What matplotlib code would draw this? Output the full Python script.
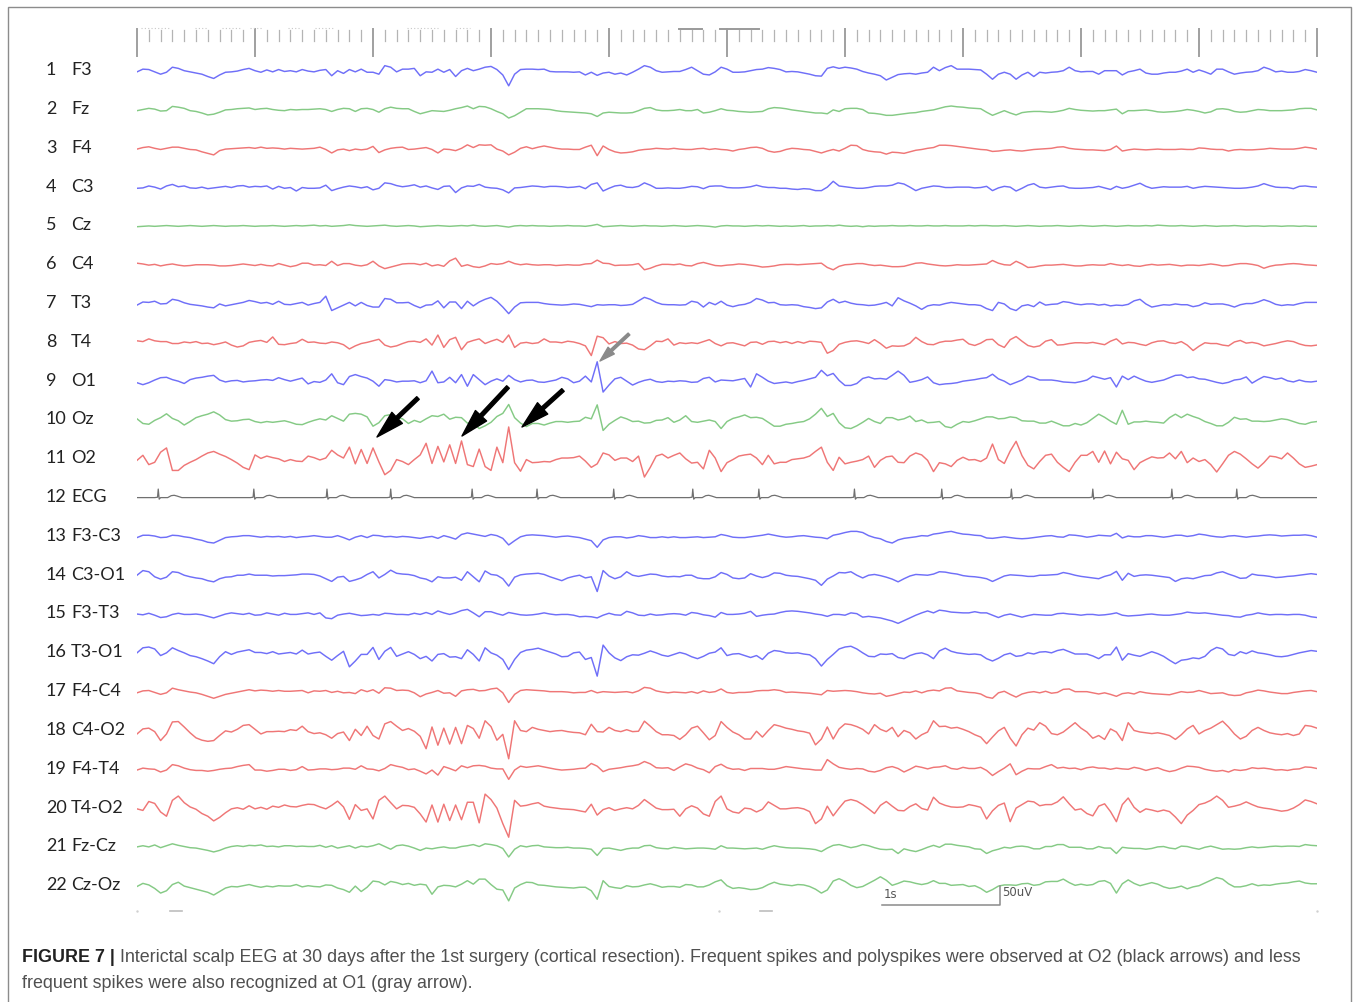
import numpy as np
import matplotlib.pyplot as plt
from matplotlib.patches import FancyArrowPatch, Rectangle

# traces: uV, one sample every 50 ms, 10 s page
DT = 0.05

f3 = [-3, 4, 3, -3, -9, -4, 9, 6, 0, -3,
      -6, -9, -15, -20, -11, -4, -3, -1, 3, 6,
      0, -4, 2, -3, 3, -2, 0, -3, 3, -1,
      -3, 1, 3, -13, 0, -7, 3, -3, 4, -4,
      -4, -9, 13, 9, -3, 4, 4, 6, -13, -3,
      -4, 4, -4, 3, -15, 0, 6, 0, 4, 9,
      11, 3, -11, -39, -9, 3, 4, 4, 3, 4,
      -2, -3, -3, -3, -4, -3, -11, -4, -12, -6,
      -4, -9, -6, -11, -4, 4, 13, 9, 0, -4,
      -3, -2, -2, 3, 9, 0, -9, -11, -3, 9,
      4, -4, -4, -3, 0, 3, 4, 8, 6, 3,
      -3, -2, -3, -6, -9, -13, -14, 6, 10, 6,
      9, 7, 4, -2, -6, -9, -13, -24, -17, -10,
      -8, -7, -9, -6, -4, 9, 0, 8, 13, 4,
      4, 4, 3, 2, -9, -22, -9, -4, -9, -22,
      -11, -4, -15, -4, -6, -4, -3, 0, 9, 0,
      -3, -2, -2, -9, 0, 0, 0, -11, -3, 0,
      4, -6, -9, -9, -6, -4, -4, -1, 4, -4,
      2, -3, -9, 4, 4, -3, -9, -6, -4, -3,
      0, 9, 4, -3, -1, -4, -4, -2, 3, 0, -4]

fz = [-3, 0, 3, 1, -4, -3, 8, 6, 3, -3,
      -5, -9, -14, -12, -7, -1, 0, 2, 3, 4,
      0, 2, 3, 0, -2, -3, 0, -1, 0, 0,
      1, 2, 0, -5, 0, 3, 2, -5, 2, 3,
      0, -7, 2, 6, 3, 2, 2, -5, -11, -7,
      -3, -4, -5, -2, 2, 5, 9, 2, 8, 7,
      2, -5, -11, -22, -16, -7, 2, 2, 2, 1,
      0, -3, -5, -6, -7, -8, -9, -11, -18, -9,
      -7, -8, -9, -9, -8, -3, 3, 5, -1, -3,
      -3, -2, 0, -3, -3, 0, -9, -7, -3, 2,
      -2, -3, -5, -6, -7, -6, -5, 2, 5, 4,
      2, -1, -3, -5, -7, -9, -9, -11, -1, -5,
      2, 3, 3, 0, -9, -10, -12, -15, -15, -13,
      -11, -9, -8, -5, -3, -1, 3, 7, 9, 7,
      6, 4, 3, 2, -7, -15, -9, -3, -9, -14,
      -8, -6, -5, -5, -6, -7, -5, -2, 3, 0,
      -2, -3, -4, -3, -3, -1, 1, -11, -3, -3,
      -2, -1, -3, -6, -7, -6, -5, -3, 0, -2,
      -5, -9, -6, 1, 2, 0, -5, -7, -6, -3,
      0, -1, -3, -3, -3, -2, -1, 2, 3, 3, -1]

f4 = [-2, 2, 4, 0, -3, 0, 3, 3, 0, -3,
      -4, -9, -13, -17, -6, -2, -1, 0, 1, 2,
      0, 3, 0, 1, 0, -2, 0, -1, -2, -1,
      0, 3, -3, -12, -4, -2, -6, -2, -4, -2,
      5, -11, -4, 0, 2, 3, -3, -2, 0, 2,
      -3, -12, -2, -3, -6, 0, 9, 2, 9, 8,
      9, -2, -7, -17, -10, 0, 4, -1, 3, 6,
      3, 0, -2, -2, -3, -3, 3, 8, -19, 6,
      -3, -9, -12, -11, -9, -5, -3, -2, 0, -1,
      -2, 0, -2, -3, -3, -1, 0, -3, -1, -3,
      -4, -7, -3, -1, 2, 3, 0, -7, -10, -8,
      -3, 0, -1, -3, -4, -8, -12, -7, -3, -7,
      0, 8, 7, -3, -7, -9, -10, -15, -10, -11,
      -13, -9, -5, -3, 0, 2, 8, 8, 7, 5,
      3, 1, -1, -3, -4, -8, -7, -5, -4, -6,
      -7, -5, -3, -2, -1, 0, 3, 4, 0, -2,
      -3, -4, -4, -5, -6, -3, 6, -7, -4, -2,
      -3, -4, -3, -2, -3, -3, -3, -2, -3, -3,
      1, 0, -2, -3, -3, -7, -4, -3, -4, -4,
      -3, -2, 0, -1, -2, -2, -2, 0, 3, 1, -2]

c3 = [-3, -2, 3, 0, -5, 3, 7, 1, 3, -2,
      -3, 0, -4, -2, 0, 2, -1, 3, 4, 0,
      2, 1, 3, -5, 2, -3, -1, -10, -1, -3,
      -3, -2, 5, -9, -4, 0, 3, 1, -2, 1,
      -7, -3, 11, 9, 4, 1, 3, 6, 0, 3,
      -2, -6, 2, 3, -14, -2, 3, 2, 7, 0,
      -2, -3, -7, -15, -2, -1, 1, 3, 2, 0,
      2, 2, 1, -1, 0, 2, -4, 7, 11, -10,
      -3, 3, 5, 0, -1, 2, 11, 5, -3, -3,
      -2, -3, -3, -1, 2, 1, -4, 2, 3, 3,
      -1, -2, -2, -1, 1, 5, 1, -1, -1, -3,
      -3, -5, -6, -4, -5, -9, -9, 0, 15, 3,
      1, -1, -3, -3, -1, 2, 3, 3, 5, 11,
      8, 0, -9, -3, 0, 3, 2, -1, -1, 0,
      0, 0, -2, -1, 2, -9, -2, 2, 0, -10,
      -3, 5, 9, 0, -2, 0, 2, 3, -2, -3,
      -3, -2, -1, 2, -2, -6, 2, -3, 0, 5,
      10, 2, -3, -1, 1, 0, 0, 0, 2, -3,
      0, 2, 1, 0, -1, -2, -3, -3, -2, 0,
      3, 9, 4, 0, -1, -1, -4, 2, 3, 1, 0]

cz = [-2, -1, 0, -1, 0, 1, 0, -1, 0, 1,
      0, -1, 0, 1, 0, -1, 0, 0, 1, 0,
      -1, 0, 0, 1, 0, -1, 0, 1, 0, 1,
      2, 0, 1, -1, 0, 1, 3, 1, 0, -1,
      0, 1, 2, 0, -1, 0, 1, 0, -2, -1,
      0, 1, 0, -1, 0, 1, 0, 2, 0, -1,
      0, 1, -1, -3, 0, 1, 0, 1, 0, 0,
      -1, 0, 0, 1, 0, 0, -1, 1, 4, -2,
      -1, 0, 1, 0, -1, 0, 1, 0, 0, -1,
      0, 1, 0, -1, 0, 1, 0, -1, -3, 0,
      1, 0, 0, -1, 0, 1, 0, 1, 0, -1,
      0, -1, 0, 1, -1, 0, 0, 1, 0, 2,
      0, -1, 0, -2, 0, -1, 0, 0, 1, 0,
      0, 1, 0, 0, 1, 0, 0, 1, 0, 0,
      0, 1, 0, 1, 1, 0, 0, 1, 0, -1,
      0, 1, 0, -1, 0, 0, 1, 0, -1, 0,
      1, 0, -1, 0, 1, 0, -1, 0, 1, 0,
      0, 1, 0, 2, 1, 0, 0, 1, 0, -1,
      0, 1, 0, -1, 0, 0, 1, 0, -1, 0,
      0, -1, 0, 0, -1, 0, 0, -1, 0, -1, -1]

c4 = [4, 2, -1, 1, -3, 0, 2, -1, -3, -2,
      0, 0, 0, -1, -3, -3, -2, 0, 2, 0,
      -2, 1, -2, -3, 3, -1, -5, -2, 4, 4,
      -1, 0, -2, 9, -2, 3, 3, -1, -3, 0,
      9, -3, -10, -6, -2, 2, 3, 3, 0, 4,
      -3, 0, -4, 10, 17, -4, 0, -5, -7, -3,
      3, 1, 3, 9, 3, 0, 2, 0, -1, 0,
      0, -2, -1, 0, -1, -1, 2, 3, 12, 4,
      3, -2, -1, -1, 0, 3, -13, -9, -3, 1,
      1, 0, 2, -2, -3, 3, 6, 2, -2, -3,
      -1, 0, 2, 1, -1, -3, -6, -5, -3, 0,
      1, 1, 0, 1, 2, 3, 4, -7, -13, -4,
      0, 1, 3, 3, 0, -2, -1, -3, -5, -5,
      -4, 0, 4, 5, 2, 0, -2, -3, -2, 0,
      -1, -1, 0, 1, 2, 11, 4, 0, -1, 9,
      2, -7, -6, -3, -1, -1, 0, 1, -1, -3,
      -3, -1, 0, -1, -1, 3, 0, -2, 0, -3,
      -4, -1, 1, -1, 0, 1, -1, -3, -1, -1,
      -2, 0, 2, 0, -3, -2, 1, 3, 3, 1,
      -2, -9, -4, -1, 0, 2, 3, 2, 0, -1, -2]

t3 = [-4, 4, 3, 6, -1, 0, 11, 8, 2, -2,
      -4, -6, -9, -11, -1, -6, -3, 0, 3, 8,
      5, 1, 3, -2, 6, -2, -3, 0, 3, -4,
      0, 3, 19, -18, -11, -4, 3, -6, 3, -5,
      -9, -9, 13, 11, 2, 2, 3, -5, -11, -4,
      -3, 7, -11, 4, 4, -13, 6, -6, 4, 11,
      16, 6, -9, -26, -9, 2, 3, 3, 3, 0,
      -2, -3, -4, -3, -1, -2, -5, -8, -3, -4,
      -3, -3, -5, -4, -2, 7, 16, 11, 3, -2,
      -3, -3, -4, -3, 6, 3, -9, 3, -3, 6,
      -4, -8, -4, -2, 3, 13, 9, 2, 3, -3,
      -4, -3, -4, -8, -10, -13, -11, 4, 11, 2,
      6, 1, -2, -3, -5, -4, -1, 3, -6, 15,
      7, 1, -6, -15, -6, -3, -4, 0, 3, 1,
      -1, -3, -3, -5, -13, -18, 3, -1, -13, -18,
      -6, -3, -8, 4, -4, -2, -1, 5, 3, -1,
      -3, -1, -1, -4, -2, -6, -4, -5, -2, 7,
      11, -1, -9, -6, -3, -4, -1, -3, -3, -8,
      -5, 2, -2, -1, -1, -4, -9, -3, 0, 0,
      4, 10, 5, -2, -5, -3, -4, 0, 3, 3, 3]

t4 = [4, 2, 9, 4, 2, 2, -3, -3, 1, -1,
      2, -3, -2, -6, -3, 1, -7, -12, -9, 0,
      3, 5, 0, 14, -5, -6, -3, -1, 8, 0,
      1, -2, -3, 1, -1, -6, -17, -9, -3, 0,
      4, 8, -7, -12, -9, -3, 2, 3, 0, 9,
      -7, 19, -13, 7, 13, -19, 0, 5, 9, -3,
      3, 8, 0, 19, -13, -2, 0, -3, -1, 9,
      1, 1, -1, 3, 1, -3, -9, -34, 16, 12,
      -4, 2, -3, -2, -7, -17, -19, -9, 3, 2,
      9, -7, -1, -3, -1, -3, 2, 7, -3, -9,
      -2, -1, -5, -9, 0, 1, -5, 2, 3, -1,
      2, -3, 2, -2, 3, 2, 0, -28, -21, -5,
      0, 3, 4, 1, -3, 7, -3, -15, -9, -10,
      -9, -2, 13, 2, -5, -6, 0, 3, 3, 6,
      8, -4, -8, -2, 7, 8, -6, -13, 7, 15,
      3, -8, -12, -9, 3, 7, -7, -6, -3, -1,
      -1, -2, 0, -3, -6, 3, 9, -4, 0, -1,
      -5, -8, -1, 3, 4, -1, -3, 2, -7, -21,
      -10, -1, -3, -3, -7, -9, 1, 5, -2, 0,
      -3, -9, -6, -3, 1, 4, 2, -4, -8, -9, -7]

o1 = [-4, -9, -4, 3, 9, 10, 4, 0, -6, 4,
      8, 10, 13, 15, 3, -2, 1, 2, -2, 0,
      1, 3, 4, 2, 9, 4, 0, 4, 8, -7,
      -1, -3, 3, 19, -4, -9, 12, 17, 12, 8,
      0, -13, 4, 2, -2, 0, 0, 1, -4, 1,
      26, -4, -2, 10, -4, 17, -13, 17, 4, -9,
      0, 6, 0, 15, 4, -2, 2, 3, -2, -3,
      0, 3, 10, 6, -4, 0, 13, -2, 50, -28,
      -10, 6, 10, 0, -10, -3, 2, 5, -1, -3,
      0, -1, 1, 0, -3, -2, 7, 10, -2, 3,
      2, 1, 4, 7, -15, 19, 10, 0, -6, -4,
      -2, -5, -1, 2, 6, 10, 28, 14, 20, 2,
      -11, -11, -6, 7, 11, 6, 7, 5, 15, 26,
      15, -3, 0, 4, 11, -4, -9, -7, -6, -4,
      0, 2, 4, 7, 9, 18, 6, 0, -9, -3,
      3, 13, 9, 3, 3, 3, 1, -2, -3, -4,
      -1, 3, 13, 9, 5, 9, -15, 13, 4, 13,
      6, 0, -3, 0, 3, 9, 15, 16, 9, 11,
      6, 5, 1, -3, -6, -3, 3, 5, 11, -5,
      4, 12, 9, 5, 8, 1, -2, 3, -1, -2, 0]

oz = [3, -9, -11, -1, 6, 16, 4, -2, -13, -4,
      6, 11, 15, 21, 13, 1, -3, -2, 1, 2,
      -4, -7, -4, -6, -4, -2, -6, -11, -12, -6,
      -1, 3, 0, 11, 4, -3, 15, 17, 15, 8,
      -16, -7, 11, 14, 6, 3, -9, -1, -6, 3,
      11, 9, 15, 2, 7, 6, -8, -8, -22, -15,
      -6, 9, 17, 40, 6, -8, -17, -9, -9, -13,
      -8, -4, -4, -6, -4, -3, 7, 3, 39, -27,
      -11, -1, 8, 3, -4, -3, -8, -7, -1, 0,
      6, -6, 0, 11, -4, -6, -3, 0, -4, -22,
      -4, 4, 8, 13, 6, 7, 4, -6, -16, -16,
      -11, -9, -6, -4, 3, 15, 30, 9, 17, -7,
      -20, -22, -15, -6, 4, -4, -9, 6, 6, 0,
      3, 10, -4, 0, -7, -6, -4, -17, -20, -11,
      -4, -6, -2, 3, 8, 8, 3, 4, 8, 6,
      -2, -3, -3, -8, -8, -3, -9, -15, -15, -9,
      -13, -7, 4, 15, 7, -3, -11, 25, -11, -5,
      -5, -3, -5, -6, -8, 6, 15, 6, 15, 9,
      4, -4, -9, -15, -15, -6, 7, 2, 3, -3,
      -3, -4, -3, 0, 3, 1, -4, -9, -11, -6, -4]

o2 = [-4, 9, -15, -9, 17, 28, -30, -30, -17, -9,
      -2, 7, 15, 19, 12, 6, -2, -11, -22, -28,
      10, 1, 7, 3, 0, -7, -2, -6, -7, 7,
      3, -3, 2, 22, 10, 2, 30, -13, 24, -12,
      28, -8, -41, -30, -2, -7, -15, -2, 10, 40,
      -12, 32, -8, 36, -12, 46, -15, -20, 25, -20,
      -30, 30, -10, 82, -10, -32, -2, -10, -9, -7,
      -8, -2, 2, 2, 3, 7, -6, -22, -13, 15,
      10, -4, 2, 2, -7, 7, -47, -22, 7, 12,
      2, 9, 15, 0, -11, -9, -26, 22, 2, -33,
      -10, -2, 7, 10, 12, 2, -15, 9, -13, -9,
      -9, -2, 0, 2, 7, 19, 30, -9, -30, 4,
      -13, -9, -6, -2, 7, -22, -4, 5, 7, -9,
      -10, 7, 15, 10, -4, -33, -10, -13, -20, -4,
      4, -3, -2, -7, 2, 38, -2, -12, 20, 45,
      8, -17, -26, -7, 9, 12, -9, -22, -33, -9,
      9, 9, 19, -9, 20, -13, 17, 0, -4, -28,
      -10, -2, 5, 2, 3, 15, 0, 19, -10, 2,
      -7, -2, -15, -34, -13, 9, 19, 12, 0, -13,
      -24, -10, 7, 5, 0, 15, 2, -13, -22, -19, -15]

f3_c3 = [-3, 3, 3, 1, -3, -2, 3, 2, -1, -3,
         -7, -10, -15, -17, -10, -3, -1, 0, 2, 2,
         0, -2, 0, -1, 0, -2, 0, -3, -1, 0,
         2, 0, -2, -2, 2, -3, -9, -2, 2, -3,
         3, 2, -1, 0, -2, 0, -1, -3, -5, -2,
         0, -5, 2, -2, -7, 5, 9, 6, 3, 0,
         5, 2, -5, -22, -11, -1, 3, 4, 3, 2,
         0, -2, 0, 1, -1, -3, -7, -11, -28, -9,
         -3, -1, -1, -4, -2, 2, 0, -3, -3, -1,
         -3, -1, -3, -3, -2, -1, -3, -2, -1, 5,
         2, -2, -3, -3, -1, 1, 3, 6, 3, 0,
         -2, -1, 1, 2, 0, -2, -3, -6, 3, 6,
         10, 13, 13, 10, 2, -3, -6, -13, -17, -9,
         -5, -3, -1, 2, 1, 6, 8, 11, 13, 9,
         6, 5, 3, 2, -4, -5, -3, -1, -3, -5,
         -6, -5, -3, -1, 1, 2, -1, -2, 4, 3,
         1, -2, 0, 3, 2, 1, 8, -4, 1, -1,
         -1, 2, 2, 0, -2, 0, 3, 3, 0, 2,
         6, 4, 1, -1, -2, 1, 2, 0, -2, 0,
         1, 3, 4, 3, 1, 2, 3, 3, 4, 2, -2]

c3_o1 = [0, 12, 9, -4, -10, -5, 9, 7, 0, -4,
         -7, -9, -14, -17, -9, -5, -4, 0, 0, 3,
         0, 0, 0, -2, -1, -1, 0, 1, 3, 3,
         2, -2, -9, -16, -5, -3, -16, -12, -7, 2,
         9, -7, 2, 13, 5, 3, 2, -1, -7, -10,
         -17, -4, -7, -7, -5, -13, 9, -4, -17, 11,
         2, 0, -9, -28, -5, 1, 3, 4, 5, 2,
         -4, -9, -14, -7, -3, 0, -7, -4, -42, 12,
         -2, -9, -4, 9, 0, -3, 0, 3, 2, -2,
         -4, -3, -4, 0, 0, -7, -9, -9, -4, 7,
         2, -7, -9, -7, 4, -2, -6, -2, 6, 5,
         0, -2, -3, -6, -9, -13, -26, -10, -2, 7,
         6, 9, 0, -7, 0, 2, -1, -5, -10, -17,
         -9, -2, 2, 1, 0, 3, 9, 8, 5, 3,
         -1, -3, -4, -6, -9, -16, -9, -2, 1, 0,
         -1, -3, -3, 0, 0, 1, 2, 7, 4, 0,
         -3, -5, -7, -9, -3, 1, 10, -13, 5, -3,
         0, 1, 0, -2, -4, -6, -16, -9, -7, -9,
         -5, -1, 0, 6, 9, 3, -2, -8, -7, 3,
         0, -1, -3, -6, -5, -3, -2, 0, 2, 4, 2]

f3_t3 = [0, -2, 2, -3, -9, -7, -1, 2, -1, -1,
         0, -2, -6, -10, -5, 0, 3, 1, -1, 2,
         -3, -2, 3, 0, -3, 2, -1, -1, 1, 3,
         -1, 3, -10, -12, -3, 0, 2, -1, -4, -3,
         -1, -3, 2, 1, -1, -1, -2, 2, -1, 4,
         -1, 8, 3, -1, 3, 9, 12, 3, -7, 6,
         6, 1, -3, 4, 1, -2, -3, -2, 0, 3,
         0, -2, -1, -1, -3, -7, -6, -7, -10, -3,
         2, -2, -3, 7, 3, -3, -4, 0, -3, -2,
         0, 1, 0, -3, 4, 2, -2, -4, -8, 4,
         -1, -1, 0, 2, 7, -6, -3, -1, 0, 4,
         7, 8, 7, 5, 3, 0, -2, -6, -1, -1,
         -3, 3, 1, -8, -6, -8, -10, -14, -18, -24,
         -17, -10, -3, 3, 8, 3, 10, 8, 5, 4,
         3, 3, 6, 3, 3, -3, -9, -3, 0, -4,
         -8, -4, -1, -2, -3, -3, 1, 2, 0, -1,
         -3, -1, -1, -3, -2, 0, 3, -3, -5, -4,
         -3, -1, 0, -2, -3, -3, -1, 1, 5, 3,
         2, 3, 1, -1, -3, -4, -7, -8, -3, -1,
         3, 0, -2, -1, -1, -2, -1, -1, -3, -7, -9]

t3_o1 = [0, 13, 15, 10, -7, 0, 13, 6, 0, -7,
         -10, -15, -21, -28, -10, 3, -4, 2, 5, 8,
         1, 1, -2, 3, -3, -1, 1, -3, 7, -3,
         0, 2, -9, -19, -7, 4, -36, -21, -4, -4,
         14, -17, 4, 14, -9, -3, 3, -4, -15, -9,
         -21, -4, -2, -11, -10, -15, 8, -4, -21, 13,
         0, -6, -17, -43, -17, 1, 7, 9, 12, 7,
         2, -3, -10, -9, 0, 2, -17, -12, -60, 20,
         0, -13, -20, -10, -5, -6, -1, 5, 0, -6,
         -9, -4, 1, -3, -10, -15, -9, -1, 2, 13,
         -7, -3, -2, -7, -12, -7, -17, -1, 6, 4,
         0, -1, 0, -3, -5, -15, -34, -17, -4, 10,
         15, 17, 10, 0, -9, -10, -3, -4, -2, -12,
         -15, -7, -2, 0, -5, -15, 5, 12, 4, 0,
         -2, -4, -3, -5, -15, -21, -14, -5, -1, -9,
         -7, 0, -3, 2, 3, 0, 6, 9, 3, -3,
         -3, -3, -8, -15, -5, -5, 15, -19, -2, -6,
         -9, -3, 3, -2, -9, -19, -28, -19, -17, -13,
         -15, -9, 6, 14, 10, -4, -7, 3, -2, 5,
         0, -2, -5, -9, -10, -8, -4, 0, 3, 6, 4]

f4_c4 = [-3, 2, 3, -2, -7, -3, 9, 5, 2, -1,
         -3, -7, -12, -17, -12, -7, -4, -1, 2, 5,
         2, 4, 3, 1, 3, 1, 1, 2, 3, -3,
         2, 1, 3, -2, 1, -3, -2, -5, 5, 0,
         5, -4, 10, 9, 3, 4, 3, -3, -13, -6,
         -2, 3, -4, -3, -12, 2, 5, 6, 2, 3,
         7, 9, -3, -28, -7, 3, 5, 4, 3, 2,
         0, 0, 0, -1, -3, -2, -2, 3, -3, 0,
         -1, -2, -1, 0, -3, 2, 11, 9, 2, -1,
         -3, -1, -2, -3, 0, -4, 2, -2, 0, 7,
         -2, -4, -2, -2, -1, 2, 3, 3, 5, 3,
         -2, -1, -2, -3, -4, -6, -8, 3, 1, 2,
         3, 2, 0, -3, -5, -6, -4, -12, -9, -5,
         -1, -2, 2, -3, 2, 4, 2, 9, 10, 2,
         0, -2, -3, -6, -14, -17, -3, 1, -7, -14,
         -6, -2, 0, -3, 1, -4, -2, 6, 7, 0,
         0, 0, -3, -6, -3, -7, -12, -5, -3, -6,
         0, -3, -5, -6, -7, -8, -4, 0, -2, -1,
         3, -1, -5, -4, -3, -8, -10, -9, -3, 0,
         4, 2, -1, -3, -5, -5, -2, 0, 2, 3, 0]

c4_o2 = [-9, 4, 6, -3, -26, -9, 22, 23, 9, -6,
         -19, -25, -28, -26, -13, -1, -4, 3, 13, 15,
         3, -9, -3, -3, -2, -3, 2, 0, 11, -3,
         -8, -6, -11, -20, -8, -4, -26, 3, -13, 11,
         -13, -22, 17, 23, 11, 0, 5, -2, -15, -47,
         9, -38, 6, -35, 8, -34, 13, 5, -20, 25,
         10, -25, -10, -73, 25, 0, -3, 8, 3, 0,
         -3, -1, 0, -3, -5, -6, -11, 16, -3, -4,
         8, 0, -3, 2, -3, -2, 24, 11, -3, -11,
         -11, -13, -23, -11, 6, 11, -6, -24, -13, 23,
         8, -4, -11, -22, -22, -2, -17, 0, 15, 11,
         6, 3, -1, -3, -7, -37, -22, 9, -22, 4,
         17, 15, 10, 3, -9, 15, 3, -3, 8, -16,
         0, -6, -22, -11, -4, 25, 10, 11, 6, 8,
         3, -3, -11, -17, -34, -17, -1, 8, -20, -40,
         -11, 6, 1, 20, 11, -8, -11, -4, 8, 20,
         6, -4, -20, -13, -23, 4, -4, -26, 20, 0,
         -4, -6, -8, -6, -9, -13, -23, -11, 4, 13,
         -9, 0, 6, 15, 24, 9, -9, -22, -15, 0,
         8, 0, -6, -9, -11, -8, -13, -9, 13, 11, 6]

f4_t4 = [-2, 3, 1, 0, -7, -2, 12, 9, 3, -1,
         -3, -3, -5, -3, 0, 2, 3, 7, 10, 12,
         -2, -2, -5, -3, 0, 0, -3, -1, 7, -2,
         -1, 1, 1, -1, 0, 3, 3, 0, 9, 1,
         0, -4, 2, 12, 8, 5, -1, 1, -5, -12,
         -2, -15, 7, 2, -4, 9, 4, 9, 10, 8,
         3, 1, 1, -26, -2, 8, 5, 7, 9, 6,
         3, 0, -2, -1, 0, 2, 3, 15, 8, -6,
         0, 2, 4, 7, 9, 12, 20, 14, 4, 3,
         4, -3, 6, 14, 10, 3, -1, -9, 7, 13,
         4, 0, 1, -3, 2, 2, 2, 0, 0, 3,
         7, 5, 3, 1, 0, -2, -2, 25, 14, 5,
         2, 0, 2, 1, -5, -7, -3, 4, 7, 2,
         -7, 0, 8, 5, 1, 5, 6, 9, 2, 0,
         5, 2, 2, 5, -3, -16, -6, 3, 14, -14,
         -5, 2, 1, 1, 7, 12, 3, 5, 2, 3,
         -1, 4, 6, 3, 3, 0, 3, 1, 0, 5,
         2, -3, 1, 4, -2, -6, -3, 3, 8, 7,
         5, 0, -3, -5, -3, -7, -1, -3, -1, 4,
         2, 3, 1, -2, -1, -3, 0, 1, 6, 5, 2]

t4_o2 = [-2, -6, 17, 12, -10, -21, 20, 31, 14, 3,
         -3, -14, -21, -33, -24, -12, -2, 1, -3, 6,
         -2, 2, -3, 5, 2, 8, 4, 3, 7, 10,
         9, 3, -2, 7, 18, 3, -29, 9, -6, -2,
         -28, 20, 31, 14, -2, 7, 6, 2, -15, -36,
         8, -36, 10, -32, 8, -30, 15, 15, -38, 36,
         22, 0, -40, -75, 20, 5, 7, 11, 14, 5,
         2, 0, -2, -3, -4, -7, -10, 10, -18, -4,
         1, -6, -2, 1, -2, 7, 22, 11, 0, -4,
         -4, -3, -21, -2, 6, 0, -15, -21, 17, 31,
         -2, -10, -13, 0, -2, -10, -3, 16, 7, -2,
         -2, 0, 1, -2, -9, -40, -28, 5, -20, 0,
         18, 22, 18, 9, -2, -14, 7, 17, 5, -6,
         -7, 4, 11, -1, -5, 28, 13, 7, 3, 2,
         3, 9, 6, 2, -28, -7, 7, 13, -35, 0,
         9, 18, 16, 6, 9, 9, 16, 29, 11, -5,
         -2, -14, -20, 5, 11, -9, -35, 9, 26, 2,
         -11, -2, -5, -9, -5, -9, -23, -40, -18, -6,
         9, 13, 20, 31, 20, 2, 5, 9, 16, 9,
         3, 0, -2, -5, -8, -6, 0, 9, 21, 17, 11]

fz_cz = [0, 3, 0, 5, -2, 3, 8, 4, 1, -2,
         -3, -6, -9, -13, -9, -3, 1, 3, 1, 4,
         3, 5, 1, 2, 0, 3, 3, 1, 2, 1,
         1, 4, -1, 3, -3, 0, 3, -3, 2, 0,
         3, 8, 1, -6, 3, 5, 2, -3, -9, -3,
         -5, -2, 0, -3, -3, 1, 3, 6, 1, 8,
         6, 3, -4, -26, -6, 3, 0, 3, 4, 0,
         -1, -2, -2, -1, -3, -3, -4, -6, -22, -4,
         -3, -6, -9, -5, -3, -3, 3, 4, -2, -4,
         -5, -1, -3, -5, -4, -3, -3, -4, -6, 3,
         -3, -3, -4, -5, -4, -3, -6, -1, 3, 0,
         -2, -3, -3, -4, -5, -7, -12, -3, 4, 6,
         2, -2, 1, 6, 3, -2, -6, -7, -6, -17,
         -5, -9, -12, -7, -1, 4, -1, 7, 7, 4,
         2, 0, -5, -6, -17, -10, -6, -1, -3, 1,
         2, 0, -5, -5, 1, 1, 6, 6, -1, -1,
         -1, -5, -5, 1, -3, -3, -17, -1, -3, -4,
         -4, -6, -4, 0, 1, -3, -5, 2, 1, -3,
         -6, -1, 2, -2, -6, -5, -6, -5, -2, 0,
         -2, -1, 1, 2, 1, 2, 2, 1, 6, 4, 3]

cz_oz = [-2, 6, 2, -7, -19, -13, 3, 9, -1, -5,
         -9, -13, -17, -24, -15, -6, -2, -3, 0, 3,
         -1, -4, -1, -3, 0, -1, -1, 3, -3, 0,
         -2, -3, 2, 1, -6, -10, -17, -1, -15, -4,
         12, 10, 2, 11, 8, 3, 6, 1, 4, 2,
         -22, -3, 1, 0, -3, 4, 13, 4, 17, 17,
         3, -9, -11, -39, -6, 3, 9, 8, 2, 1,
         -1, -3, -4, -5, -6, -4, -4, -13, -35, 13,
         -2, -5, -7, 0, -3, -2, 2, 5, 1, -4,
         -2, -2, -4, 3, 2, -3, -3, 2, 10, 15,
         0, -7, -5, -7, -10, -9, -5, 3, 9, 4,
         2, 0, 3, 2, -2, -9, -19, -11, 12, 18,
         11, 1, -5, -2, 6, 14, 23, 14, 1, 6,
         12, 10, 6, 3, 6, 13, 6, 6, 1, 2,
         3, -2, 0, -7, -17, -10, -1, 2, 2, 1,
         5, 6, 1, 3, 10, 11, 11, 17, 8, 1,
         4, 1, 3, 11, 13, 6, -19, 5, 15, 6,
         0, 4, 8, 4, -3, -7, -5, -1, -8, -3,
         0, 7, 14, 21, 17, 5, -3, -3, 0, 5,
         0, 2, 1, 4, 6, 7, 10, 12, 7, 5, 5]

# ECG: R-peak times (s) and the shape of one beat (s from R, uV)
ecg_beats = [0.18, 0.99, 1.61, 2.15, 2.84, 3.39, 4.04, 4.71, 5.27,
             6.08, 6.82, 7.41, 8.10, 8.77, 9.32]
beat_dt = [-0.03, -0.006, 0.0, 0.008, 0.02, 0.08, 0.11, 0.135, 0.16, 0.2]
beat_uv = [0, 1, 22, -4, 0, 0, 5, 6, 4, 0]

names = ['F3', 'Fz', 'F4', 'C3', 'Cz', 'C4', 'T3', 'T4', 'O1', 'Oz', 'O2',
         'ECG', 'F3-C3', 'C3-O1', 'F3-T3', 'T3-O1', 'F4-C4', 'C4-O2',
         'F4-T4', 'T4-O2', 'Fz-Cz', 'Cz-Oz']

BLUE, RED, GREEN, GRAY = '#6f6ff8', '#ef7676', '#85ca85', '#707070'
traces = [(f3, BLUE), (fz, GREEN), (f4, RED), (c3, BLUE), (cz, GREEN),
          (c4, RED), (t3, BLUE), (t4, RED), (o1, BLUE), (oz, GREEN),
          (o2, RED), (None, GRAY), (f3_c3, BLUE), (c3_o1, BLUE),
          (f3_t3, BLUE), (t3_o1, BLUE), (f4_c4, RED), (c4_o2, RED),
          (f4_t4, RED), (t4_o2, RED), (fz_cz, GREEN), (cz_oz, GREEN)]

# ---- layout (pixels of the 1358x1003 page) ----
W, H = 1358, 1003
X0, X1 = 137, 1317          # 0 s .. 10 s
Y_TOP, Y_BOT = 22, 925
BASE1 = 71.7                # baseline of channel 1
PX_UV = 0.3881              # px per uV, 100 uV between channels
SPACING = 100
PX_S = (X1 - X0) / 10.0

def px_t(x):
    return (x - X0) / PX_S

def px_v(y):
    return -(y - BASE1) / PX_UV

fig = plt.figure(figsize=(W / 100, H / 100), dpi=100)
fig.patch.set_facecolor('white')
ax = fig.add_axes([X0 / W, 1 - Y_BOT / H, (X1 - X0) / W, (Y_BOT - Y_TOP) / H])
ax.set_xlim(0, 10)
ax.set_ylim(px_v(Y_BOT), px_v(Y_TOP))
ax.axis('off')

# frame round the page
fig.add_artist(Rectangle((8 / W, -0.02), 1343 / W, 1.02 - 8 / H,
                         transform=fig.transFigure, fill=False,
                         edgecolor='#8c8c8c', lw=1.0))

for k, (name, (vals, col)) in enumerate(zip(names, traces)):
    base = -k * SPACING
    if vals is None:
        t = [0.0]
        v = [0.0]
        for b in ecg_beats:
            t += [b + d for d in beat_dt]
            v += beat_uv
        t.append(10.0)
        v.append(0.0)
        ax.plot(t, base + np.array(v), color=col, lw=0.9)
    else:
        t = np.arange(len(vals)) * DT
        ax.plot(t, base + np.array(vals), color=col, lw=1.05,
                solid_joinstyle='round')
    ax.text(px_t(46), base + 4, str(k + 1), ha='left', va='center',
            fontsize=13, family='Lato', color='#222222', clip_on=False)
    ax.text(px_t(71), base + 4, name, ha='left', va='center',
            fontsize=13, family='Lato', color='#222222', clip_on=False)

# time ruler at the top: tick every 0.1 s, long tick every second
for i in range(101):
    tt = i * 0.1
    if i % 10 == 0:
        ax.plot([tt, tt], [px_v(30), px_v(57)], color='#a0a0a0', lw=1.4,
                clip_on=False)
    else:
        ax.plot([tt, tt], [px_v(31), px_v(41.5)], color='#b4b4b4', lw=0.9,
                clip_on=False)

ruler_dots = [(0.03, 0.28), (0.49, 0.60), (0.72, 0.89), (0.96, 1.06),
              (1.28, 1.38), (1.51, 1.66), (2.29, 2.55), (2.70, 2.82)]
ruler_bars = [(4.59, 4.79), (4.94, 5.27)]
for a, b in ruler_dots:
    ax.plot([a, b], [px_v(28.5), px_v(28.5)], color='#c8c8c8', lw=0.8,
            ls=(0, (1, 2)), clip_on=False)
for a, b in ruler_bars:
    ax.plot([a, b], [px_v(29.5), px_v(29.5)], color='#9a9a9a', lw=1.4,
            clip_on=False)

# marks under the last trace
foot_bars = [(0.28, 0.38), (5.28, 5.38)]
for a, b in foot_bars:
    ax.plot([a, b], [px_v(912), px_v(912)], color='#bdbdbd', lw=1.2,
            clip_on=False)
ax.plot([0.0, 4.93, 10.0], [px_v(912)] * 3, ls='none', marker='.',
        ms=1.5, color='#d0d0d0', clip_on=False)

# calibration: 1 s by 50 uV
bar_end = px_t(1000)
bar_y = px_v(906)
ax.plot([bar_end - 1.0, bar_end, bar_end], [bar_y, bar_y, bar_y + 50],
        color='#8a8a8a', lw=1.1, clip_on=False)
ax.text(px_t(884), px_v(894), '1s', fontsize=8.5, color='#555555',
        ha='left', va='center', family='DejaVu Sans')
ax.text(px_t(1002), px_v(892), '50uV', fontsize=8.5, color='#555555',
        ha='left', va='center', family='DejaVu Sans')

# arrows: black at O2, gray at O1
black_tails = [(418, 399), (508, 388), (563, 391)]
black_tips = [(377, 438), (462, 437), (522, 428)]
for (xa, ya), (xb, yb) in zip(black_tails, black_tips):
    ax.add_patch(FancyArrowPatch(
        (px_t(xa), px_v(ya)), (px_t(xb), px_v(yb)),
        arrowstyle='simple,head_length=1.0,head_width=0.55,tail_width=0.13',
        mutation_scale=20, color='black', shrinkA=0, shrinkB=0, zorder=5))
ax.add_patch(FancyArrowPatch(
    (px_t(629), px_v(335)), (px_t(600), px_v(362)),
    arrowstyle='simple,head_length=1.0,head_width=0.6,tail_width=0.17',
    mutation_scale=11, color='#8a8a8a', shrinkA=0, shrinkB=0, zorder=5))

# caption
r = fig.canvas.get_renderer()
CAP_FS = 12.9
cap_y1 = 1 - 958 / H
cap_y2 = 1 - 984 / H
bold = fig.text(22 / W, cap_y1, 'FIGURE 7 |', fontsize=CAP_FS, weight='bold',
                family='Liberation Sans', color='#222222', va='center')
bb = bold.get_window_extent(renderer=r)
fig.text((bb.x1 + 5) / W, cap_y1,
         'Interictal scalp EEG at 30 days after the 1st surgery (cortical '
         'resection). Frequent spikes and polyspikes were observed at O2 '
         '(black arrows) and less',
         fontsize=CAP_FS, family='Liberation Sans', color='#505050',
         va='center')
fig.text(22 / W, cap_y2,
         'frequent spikes were also recognized at O1 (gray arrow).',
         fontsize=CAP_FS, family='Liberation Sans', color='#505050',
         va='center')

fig.savefig('out.png', dpi=100)
